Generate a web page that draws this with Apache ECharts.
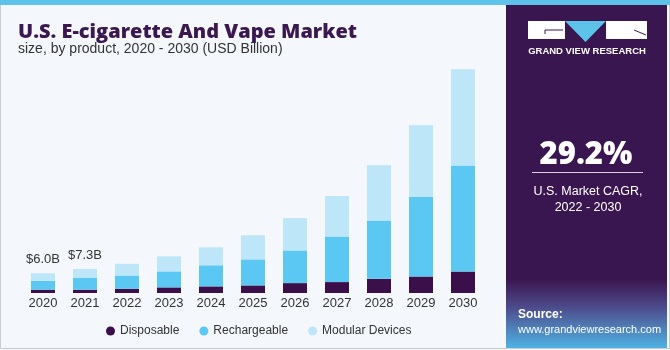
<!DOCTYPE html>
<html>
<head>
<meta charset="utf-8">
<script src="https://cdn.jsdelivr.net/npm/echarts@6/dist/echarts.min.js"></script>
<style>
 html,body{margin:0;padding:0;background:#f4f8fc;}
 #main{width:670px;height:350px;}
</style>
</head>
<body>
<div id="main"></div>
<script>
 // 年份
 var years = ['2020','2021','2022','2023','2024','2025','2026','2027','2028','2029','2030'];
 // 各产品规模 (USD Billion)
 var disposable   = [1.0, 1.0, 1.3, 1.7, 2.0, 2.3, 3.0, 3.3, 4.3, 5.0, 6.5];
 var rechargeable = [2.7, 3.55, 4.0, 4.85, 6.4, 7.9, 9.9, 13.8, 17.7, 24.1, 32.1];
 var modular      = [2.3, 2.75, 3.55, 4.55, 5.45, 7.3, 9.8, 12.3, 16.7, 21.7, 29.2];
 // 柱顶标注
 var topLabels = ['$6.0B', '$7.3B'];

 var purple = '#3b1850';
 var myChart = echarts.init(document.getElementById('main'));

 var option = {
	backgroundColor: '#f4f8fc',
	textStyle: {fontFamily: 'Liberation Sans'},
	grid: {
		left: 22,
		right: 186,
		top: 62,
		bottom: 57
	},
	xAxis: {
		type: 'category',
		data: years,
		axisLine: {show: false},
		axisTick: {show: false},
		axisLabel: {
			color: '#333',
			fontSize: 13,
			margin: 4
		}
	},
	yAxis: {
		type: 'value',
		show: false,
		min: 0,
		max: 70
	},
	legend: {
		left: 101,
		top: 320,
		icon: 'circle',
		itemWidth: 9,
		itemHeight: 9,
		itemGap: 20,
		textStyle: {color: '#333', fontSize: 12},
		data: ['Disposable', 'Rechargeable', 'Modular Devices']
	},
	series: [
		{
			name: 'Disposable',
			type: 'bar',
			stack: 'total',
			barWidth: 24,
			itemStyle: {color: '#3a0f4a'},
			data: disposable
		},
		{
			name: 'Rechargeable',
			type: 'bar',
			stack: 'total',
			barWidth: 24,
			itemStyle: {color: '#5bc8f3'},
			data: rechargeable
		},
		{
			name: 'Modular Devices',
			type: 'bar',
			stack: 'total',
			barWidth: 24,
			itemStyle: {color: '#bde6f8'},
			label: {
				show: true,
				position: 'top',
				distance: 7,
				color: '#333',
				fontSize: 13,
				formatter: function (p) {
					return topLabels[p.dataIndex] || '';
				}
			},
			data: modular
		}
	],
	graphic: [
		// 外框
		{type: 'rect', shape: {x: 0.5, y: 0.5, width: 669, height: 348}, style: {fill: 'none', stroke: '#c9ccd0', lineWidth: 1}, z: -1},
		// 顶部蓝条
		{type: 'rect', shape: {x: 0, y: 0, width: 670, height: 5}, style: {fill: '#5ec3e8'}},
		// 标题
		{type: 'text', left: 18, top: 22, style: {text: 'U.S. E-cigarette And Vape Market', fill: purple, font: '900 20px "Open Sans"'}},
		{type: 'text', left: 18, top: 42, style: {text: 'size, by product, 2020 - 2030 (USD Billion)', fill: '#333', font: '14px "Liberation Sans"'}},
		// 右侧面板
		{type: 'rect', shape: {x: 506, y: 5, width: 161, height: 343},
			style: {fill: new echarts.graphic.LinearGradient(0, 0, 0, 1, [
				{offset: 0, color: '#3a1650'},
				{offset: 0.8, color: '#3a1650'},
				{offset: 0.88, color: '#4d4a8a'},
				{offset: 1, color: '#4fb3e3'}
			])}},
		// logo
		{type: 'rect', shape: {x: 528, y: 21, width: 37, height: 18}, style: {fill: '#fff'}},
		{type: 'polygon', shape: {points: [[565, 21], [606, 21], [585.5, 42]]}, style: {fill: '#5ec3e8'}},
		{type: 'rect', shape: {x: 606, y: 21, width: 41, height: 18}, style: {fill: '#fff'}},
		{type: 'polyline', shape: {points: [[545, 34], [545, 30], [563, 30]]}, style: {stroke: '#3a1650', lineWidth: 1}},
		{type: 'line', shape: {x1: 634, y1: 30, x2: 646, y2: 35}, style: {stroke: '#3a1650', lineWidth: 1}},
		{type: 'text', x: 587, y: 51, style: {text: 'GRAND VIEW RESEARCH', fill: '#fff', font: 'bold 9.5px "Liberation Sans"', align: 'center', verticalAlign: 'middle'}},
		// CAGR
		{type: 'text', x: 586, y: 155, style: {text: '29.2%', fill: '#fff', font: '900 31px "Open Sans"', align: 'center', verticalAlign: 'middle'}},
		{type: 'line', shape: {x1: 532, y1: 172.5, x2: 643, y2: 172.5}, style: {stroke: '#d8d0e0', lineWidth: 1}},
		{type: 'text', x: 588, y: 192, style: {text: 'U.S. Market CAGR,', fill: '#fff', font: '12.5px "Liberation Sans"', align: 'center', verticalAlign: 'middle'}},
		{type: 'text', x: 588, y: 208, style: {text: '2022 - 2030', fill: '#fff', font: '12.5px "Liberation Sans"', align: 'center', verticalAlign: 'middle'}},
		// 来源
		{type: 'text', left: 518, top: 309, style: {text: 'Source:', fill: '#fff', font: 'bold 12px "Liberation Sans"'}},
		{type: 'text', left: 518, top: 324, style: {text: 'www.grandviewresearch.com', fill: '#fff', font: '11px "Liberation Sans"'}}
	]
 };
 myChart.setOption(option, true);
</script>
</body>
</html>
